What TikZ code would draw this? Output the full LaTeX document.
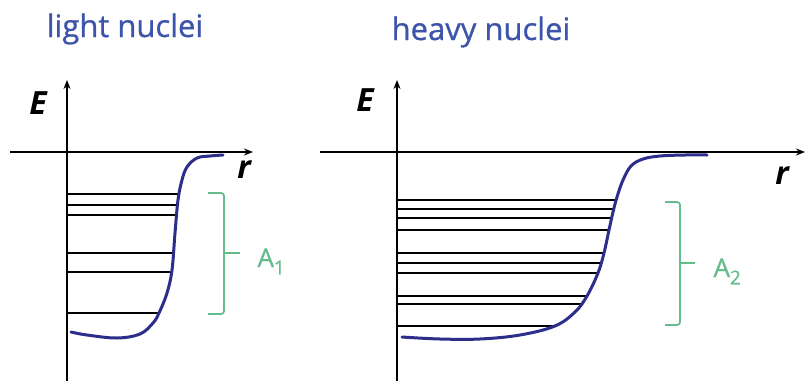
\documentclass[tikz,border=0pt]{standalone}
\usepackage{fontspec}
\setmainfont{Open Sans}
\newfontfamily\handfont[FakeBold=0.8]{Open Sans}
\usepackage{tikz}
\usetikzlibrary{arrows.meta}
\usepackage{xcolor}
\definecolor{titleblue}{RGB}{60, 85, 170}
\definecolor{wellnavy}{RGB}{45, 45, 140}
\definecolor{shellgreen}{RGB}{100, 188, 140}

\newcommand{\shellsub}[1]{\raisebox{-0.28em}{\fontsize{19}{19}\selectfont #1}}

\begin{document}
\begin{tikzpicture}[x=1pt, y=-1pt, >={Stealth[length=9pt, width=7pt]},
  axis/.style={line width=2.2pt},
  level/.style={line width=1.3pt},
  well/.style={wellnavy, line width=3pt, line cap=round},
  shell/.style={shellgreen, line width=1.8pt},
  axislabel/.style={font=\fontsize{32}{32}\selectfont\bfseries\itshape},
  shelllabel/.style={shellgreen, anchor=base west, font=\handfont\fontsize{26}{26}\selectfont},
  title/.style={titleblue, anchor=base, font=\handfont\fontsize{31}{31}\selectfont}]

  \useasboundingbox (0,0) rectangle (805,381);

  % --- Titles ---
  \node[title] (lighttitle) at (125,37) {light nuclei};
  \node[title] (heavytitle) at (481,40) {heavy nuclei};

  % --- Light nuclei: axes ---
  \draw[axis, ->] (67,381) -- (67,80);
  \draw[axis, ->] (10,152) -- (253,152);
  \node[axislabel] (lightE) at (38,103) {E};
  \node[axislabel] (lightr) at (244,170) {r};

  % Levels
  \foreach \y/\x in {194/179, 205/178, 215/176, 253/172, 272/170, 313/159}
    \draw[level] (67,\y) -- (\x,\y);

  % Potential well
  \draw[well] plot[smooth, tension=0.6] coordinates {(71,332) (87,335) (117,338)
    (140,334) (153,323) (159,313) (167,293) (172,270) (175,233) (178,200)
    (182,180) (187,167) (197,158) (210,156) (223,155)};

  % Bracket
  \draw[shell, rounded corners=3pt] (208,193) -- (224,193) -- (224,314) -- (208,314);
  \draw[shell] (224,253) -- (240,253);
  \node[shelllabel] (lightA) at (254,267) {A\shellsub{1}};

  % --- Heavy nuclei: axes ---
  \draw[axis, ->] (397,381) -- (397,80);
  \draw[axis, ->] (320,152) -- (805,152);
  \node[axislabel] (heavyE) at (365,100) {E};
  \node[axislabel] (heavyr) at (782,176) {r};

  % Levels
  \foreach \y/\x in {200/616, 209/614, 218/612, 230/609, 253/604, 263/602,
                     273/598, 296/587, 304/581, 326/555}
    \draw[level] (397,\y) -- (\x,\y);

  % Potential well
  \draw[well] plot[smooth, tension=0.6] coordinates {(402,337) (440,339)
    (480,339) (520,335) (555,326) (575,312) (587,296) (598,273) (604,253)
    (609,230) (613,212) (617,197) (623,180) (631,166) (643,159) (660,156)
    (685,155) (707,155)};

  % Bracket
  \draw[shell, rounded corners=3pt] (665,202) -- (680,202) -- (680,325) -- (665,325);
  \draw[shell] (680,263) -- (695,263);
  \node[shelllabel] (heavyA) at (710,277) {A\shellsub{2}};

\end{tikzpicture}
\end{document}
